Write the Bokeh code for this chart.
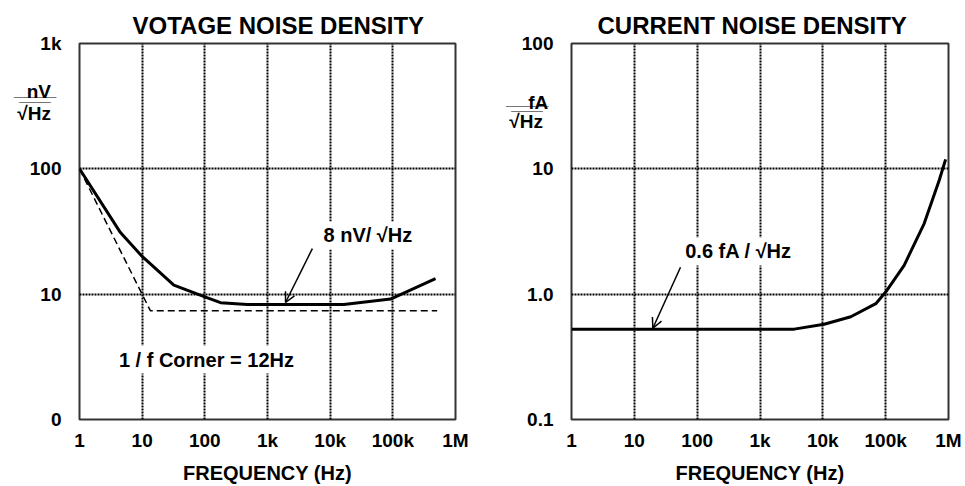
from bokeh.plotting import figure
from bokeh.layouts import row
from bokeh.models import FixedTicker, Label, Arrow, OpenHead
from bokeh.embed import file_html
from bokeh.resources import INLINE

# ---------------- data ----------------
freq_ticks = [1, 10, 100, 1000, 10000, 100000, 1000000]
freq_tick_labels = ["1", "10", "100", "1k", "10k", "100k", "1M"]

vn_ticks = [1, 10, 100, 1000]
vn_tick_labels = ["0", "10", "100", "1k"]

in_ticks = [0.1, 1, 10, 100]
in_tick_labels = ["0.1", "1.0", "10", "100"]

# voltage noise density (nV/sqrt(Hz))
vn_freq = [1, 4.5, 10, 32, 100, 178, 474, 1000, 10000, 16500, 92000, 480000]
vn_value = [100, 31, 20, 11.8, 9.5, 8.55, 8.28, 8.28, 8.28, 8.28, 9.14, 13.3]

# 1/f asymptote (dashed)
vn_asym_freq = [1, 13.5, 510000]
vn_asym_value = [100, 7.38, 7.38]

# current noise density (fA/sqrt(Hz))
in_freq = [1, 10, 100, 1000, 3500, 10500, 27900, 69700, 100000, 197000, 410000, 712000, 900000]
in_value = [0.526, 0.526, 0.526, 0.526, 0.526, 0.576, 0.66, 0.84, 1.04, 1.70, 3.66, 8.1, 11.9]

FONT = "Liberation Sans"
H = 486
NB = "\u00a0"


def make_fig(title, y_lo, y_hi, y_ticks, y_labels, y_grid, unit_ticks, width, bl, br, title_offset):
    p = figure(width=width, height=H, x_axis_type="log", y_axis_type="log",
               x_range=(1, 1e6), y_range=(y_lo, y_hi),
               output_backend="svg", toolbar_location=None,
               min_border_left=bl, min_border_right=br,
               min_border_top=43, min_border_bottom=67)
    p.title.text = title
    p.title.text_font = FONT
    p.title.text_font_size = "24px"
    p.title.text_font_style = "bold"
    p.title.text_color = "black"
    p.title.align = "left"
    p.title.offset = title_offset
    p.title.standoff = 10

    p.outline_line_color = "#333333"
    p.outline_line_width = 2
    p.background_fill_color = "white"
    p.border_fill_color = "white"

    for ax in (p.xaxis[0], p.yaxis[0]):
        ax.axis_line_color = None
        ax.major_tick_line_color = None
        ax.minor_tick_line_color = None
        ax.major_label_text_font = FONT
        ax.major_label_text_font_size = "19px"
        ax.major_label_text_font_style = "bold"
        ax.major_label_text_color = "black"

    p.xaxis.ticker = FixedTicker(ticks=freq_ticks)
    p.xaxis.major_label_overrides = dict(zip(freq_ticks, freq_tick_labels))
    p.xaxis.major_label_standoff = 4
    p.xaxis.axis_label = "FREQUENCY (Hz)"
    p.xaxis.axis_label_text_font = FONT
    p.xaxis.axis_label_text_font_size = "20px"
    p.xaxis.axis_label_text_font_style = "bold"
    p.xaxis.axis_label_text_color = "black"
    p.xaxis.axis_label_standoff = 8

    # value ticks plus the unit fraction (e.g. nV over sqrt(Hz)) drawn as axis labels
    overrides = dict(zip(y_ticks, y_labels))
    overrides.update(unit_ticks)
    p.yaxis.ticker = FixedTicker(ticks=list(y_ticks) + list(unit_ticks.keys()))
    p.yaxis.major_label_overrides = overrides
    p.yaxis.major_label_standoff = 12

    p.xgrid.ticker = FixedTicker(ticks=freq_ticks[1:-1])
    p.ygrid.ticker = FixedTicker(ticks=y_grid)
    for g in (p.xgrid[0], p.ygrid[0]):
        g.grid_line_color = "black"
        g.grid_line_width = 2
        g.grid_line_dash = "2 1"
        g.grid_line_alpha = 1
    return p


def text_label(p, x, y, txt):
    lab = Label(x=x, y=y, text=txt, text_font=FONT, text_font_size="20px",
                text_font_style="bold", text_color="black",
                text_align="center", text_baseline="middle",
                background_fill_color="white", padding=3)
    p.add_layout(lab)


# ---------------- left: voltage noise ----------------
vn_unit = {410.3: "nV" + NB * 2, 429.6: "____" + NB,
           276.5: "√Hz" + NB * 2, 391.9: "___" + NB * 2}
p1 = make_fig("VOTAGE NOISE DENSITY", 1, 1000, vn_ticks, vn_tick_labels, [10, 100], vn_unit,
              485, 79, 30, 53)
p1.line(vn_asym_freq, vn_asym_value, line_color="black", line_width=1.5, line_dash="7 4")
p1.line(vn_freq, vn_value, line_color="black", line_width=3)
text_label(p1, 40000, 29.4, "8 nV/ √Hz")
text_label(p1, 106, 3.01, "1 / f Corner = 12Hz")
p1.add_layout(Arrow(end=OpenHead(size=10, line_width=1.5, line_color="black"),
                    x_start=5200, y_start=23.1, x_end=1940, y_end=8.58,
                    line_width=1.5, line_color="black"))

# ---------------- right: current noise ----------------
in_unit = {33.8: "fA" + NB, 36.4: "____" + NB,
           23.9: "√Hz" + NB * 2, 33.2: "___" + NB * 2}
p2 = make_fig("CURRENT NOISE DENSITY", 0.1, 100, in_ticks, in_tick_labels, [1, 10], in_unit,
              480, 86, 17, 26)
p2.line(in_freq, in_value, line_color="black", line_width=3)
text_label(p2, 455, 2.19, "0.6 fA / √Hz")
p2.add_layout(Arrow(end=OpenHead(size=10, line_width=1.5, line_color="black"),
                    x_start=54.3, y_start=1.64, x_end=19.7, y_end=0.535,
                    line_width=1.5, line_color="black"))

layout = row(p1, p2)
open("out.html", "w").write(file_html(layout, INLINE))
